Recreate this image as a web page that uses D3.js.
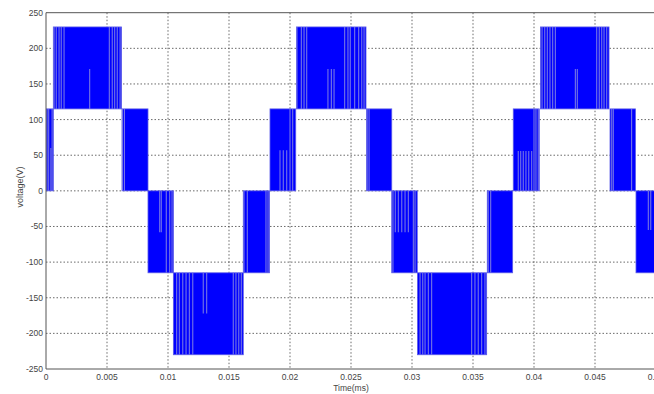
<!DOCTYPE html>
<html>
<head>
<meta charset="utf-8">
<script src="https://cdn.jsdelivr.net/npm/d3@7"></script>
<style>
  body { margin: 0; background: #fff; }
  svg { display: block; font-family: "Liberation Sans", Arial, sans-serif; }
</style>
</head>
<body>
<div class="chart"></div>
<script>
// tick values
const xTicks = [0, 0.005, 0.01, 0.015, 0.02, 0.025, 0.03, 0.035, 0.04, 0.045, 0.05];
const yTicks = [-250, -200, -150, -100, -50, 0, 50, 100, 150, 200, 250];

// switching blocks of the multilevel output: start time, end time, low level, high level
const blockStart = [0, 0.0006, 0.00623, 0.00836, 0.01044, 0.01617, 0.01836, 0.02053,
                    0.02627, 0.02834, 0.03045, 0.03617, 0.0383, 0.04053, 0.04623, 0.04836];
const blockEnd   = [0.0006, 0.00619, 0.00836, 0.01044, 0.01617, 0.01832, 0.02047, 0.02623,
                    0.02834, 0.03043, 0.03612, 0.03825, 0.04043, 0.04615, 0.04832, 0.0504];
const blockLow   = [0, 115, 0, -115, -230, -115, 0, 115, 0, -115, -230, -115, 0, 115, 0, -115];
const blockHigh  = [115, 230, 115, 0, -115, 0, 115, 230, 115, 0, -115, 0, 115, 230, 115, 0];

// visible gaps between pulses: time, from level, to level
const gapTime = [
  0.00008, 0.00022, 0.0004, 0.0005,
  0.00066, 0.00084, 0.00107, 0.00125, 0.00148, 0.00358, 0.00519, 0.00543, 0.00563, 0.00584, 0.00607,
  0.00627, 0.00643,
  0.00932, 0.00945, 0.00986, 0.01014, 0.01033,
  0.01071, 0.01093, 0.01121, 0.01148, 0.01175, 0.01203, 0.01289, 0.01317, 0.01535, 0.01557, 0.0158, 0.01601,
  0.01623, 0.0165, 0.01803, 0.0182,
  0.01918, 0.01945, 0.01973, 0.02, 0.02022,
  0.02057, 0.02093, 0.02115, 0.02137, 0.02311, 0.02339, 0.02361, 0.02448, 0.02475, 0.02494, 0.0253, 0.02563, 0.02588, 0.02607,
  0.02632, 0.02648,
  0.02844, 0.02863, 0.02888, 0.02916, 0.02943, 0.0297, 0.03011, 0.03025,
  0.03066, 0.03088, 0.03107, 0.03134, 0.03161, 0.03489, 0.03516, 0.03543, 0.03571, 0.03598,
  0.03625, 0.03645,
  0.03871, 0.03891, 0.03912, 0.03934, 0.03957, 0.03981, 0.04, 0.04016, 0.04035,
  0.04066, 0.04088, 0.04109, 0.04131, 0.04153, 0.04175, 0.04339, 0.04355, 0.04514, 0.04535, 0.04555, 0.04574, 0.04596,
  0.04637, 0.0465, 0.048,
  0.04937, 0.04957
];
const gapFrom = [
  0, 0, 0, 0,
  115, 115, 115, 115, 115, 115, 115, 115, 115, 115, 115,
  0, 0,
  -58, -58, -115, -115, -115,
  -230, -230, -230, -230, -230, -230, -172, -172, -230, -230, -230, -230,
  -115, -115, -115, -115,
  0, 0, 0, 0, 0,
  115, 115, 115, 115, 115, 115, 115, 115, 115, 115, 115, 115, 115, 115,
  0, 0,
  -115, -58, -58, -58, -58, -58, -115, -115,
  -230, -230, -230, -230, -230, -230, -230, -230, -230, -230,
  -115, -115,
  0, 0, 0, 0, 0, 0, 0, 0, 0,
  115, 115, 115, 115, 115, 115, 115, 115, 115, 115, 115, 115, 115,
  0, 0, 0,
  -55, -55
];
const gapTo = [
  115, 115, 60, 115,
  230, 230, 230, 230, 230, 171, 230, 230, 230, 230, 230,
  115, 115,
  0, 0, 0, 0, 0,
  -115, -115, -115, -115, -115, -115, -115, -115, -115, -115, -115, -115,
  0, 0, 0, 0,
  57, 57, 57, 115, 115,
  230, 230, 230, 230, 171, 171, 171, 230, 230, 230, 230, 230, 230, 230,
  115, 115,
  0, 0, 0, 0, 0, 0, 0, 0,
  -115, -115, -115, -115, -115, -115, -115, -115, -115, -115,
  0, 0,
  56, 56, 56, 56, 56, 56, 115, 115, 115,
  230, 230, 230, 230, 230, 230, 171, 171, 230, 230, 230, 230, 230,
  115, 115, 115,
  0, 0
];

const width = 654;
const height = 394;
const plotL = 46, plotR = 656, plotT = 12.7, plotB = 369;

const svg = d3.select('.chart').append('svg')
  .attr('width', width)
  .attr('height', height);

const x = d3.scaleLinear().domain([0, 0.05]).range([plotL, plotR]);
const y = d3.scaleLinear().domain([-250, 250]).range([plotB, plotT]);

svg.append('clipPath').attr('id', 'plot')
  .append('rect')
  .attr('x', plotL).attr('y', plotT)
  .attr('width', plotR - plotL).attr('height', plotB - plotT);

// dotted grid
const grid = svg.append('g');
grid.selectAll('line.vx')
  .data(xTicks.slice(1, -1))
  .enter().append('line')
  .attr('x1', d => x(d)).attr('x2', d => x(d))
  .attr('y1', plotT).attr('y2', plotB)
  .attr('stroke', '#444').attr('stroke-width', 0.8)
  .attr('stroke-dasharray', '1.5,2');
grid.selectAll('line.hy')
  .data(yTicks.slice(1, -1))
  .enter().append('line')
  .attr('x1', plotL).attr('x2', plotR)
  .attr('y1', d => y(d)).attr('y2', d => y(d))
  .attr('stroke', '#444').attr('stroke-width', 0.8)
  .attr('stroke-dasharray', '1.5,2');

// waveform blocks
const wave = svg.append('g').attr('clip-path', 'url(#plot)');
const blocks = blockStart.map((s, i) => ({ s: s, e: blockEnd[i], lo: blockLow[i], hi: blockHigh[i] }));
wave.selectAll('rect')
  .data(blocks)
  .enter().append('rect')
  .attr('x', d => x(d.s))
  .attr('width', d => x(d.e) - x(d.s))
  .attr('y', d => y(d.hi))
  .attr('height', d => y(d.lo) - y(d.hi))
  .attr('fill', '#0000ff')
  .attr('stroke', '#5c5ce8')
  .attr('stroke-width', 0.8);

// gaps between pulses show up as light lines
const gaps = gapTime.map((t, i) => ({ t: t, a: gapFrom[i], b: gapTo[i] }));
wave.selectAll('line')
  .data(gaps)
  .enter().append('line')
  .attr('x1', d => x(d.t)).attr('x2', d => x(d.t))
  .attr('y1', d => y(d.a)).attr('y2', d => y(d.b))
  .attr('stroke', '#7575e4')
  .attr('stroke-width', 1.1);

// axes box (right side is outside the window)
svg.append('path')
  .attr('d', `M${plotR},${plotT}H${plotL}V${plotB}H${plotR}`)
  .attr('fill', 'none')
  .attr('stroke', '#555')
  .attr('stroke-width', 1);

// tick labels
svg.selectAll('text.yt')
  .data(yTicks)
  .enter().append('text')
  .attr('x', plotL - 3)
  .attr('y', d => y(d) + 3)
  .attr('text-anchor', 'end')
  .attr('font-size', 8.5)
  .attr('fill', '#444')
  .text(d => d);

svg.selectAll('text.xt')
  .data(xTicks)
  .enter().append('text')
  .attr('x', d => x(d))
  .attr('y', plotB + 11)
  .attr('text-anchor', 'middle')
  .attr('font-size', 8.5)
  .attr('fill', '#444')
  .text(d => d);

// axis titles
svg.append('text')
  .attr('x', 351)
  .attr('y', 391)
  .attr('text-anchor', 'middle')
  .attr('font-size', 8.5)
  .attr('fill', '#444')
  .text('Time(ms)');

svg.append('text')
  .attr('transform', 'translate(23,187) rotate(-90)')
  .attr('text-anchor', 'middle')
  .attr('font-size', 9)
  .attr('fill', '#444')
  .text('voltage(V)');
</script>
</body>
</html>
